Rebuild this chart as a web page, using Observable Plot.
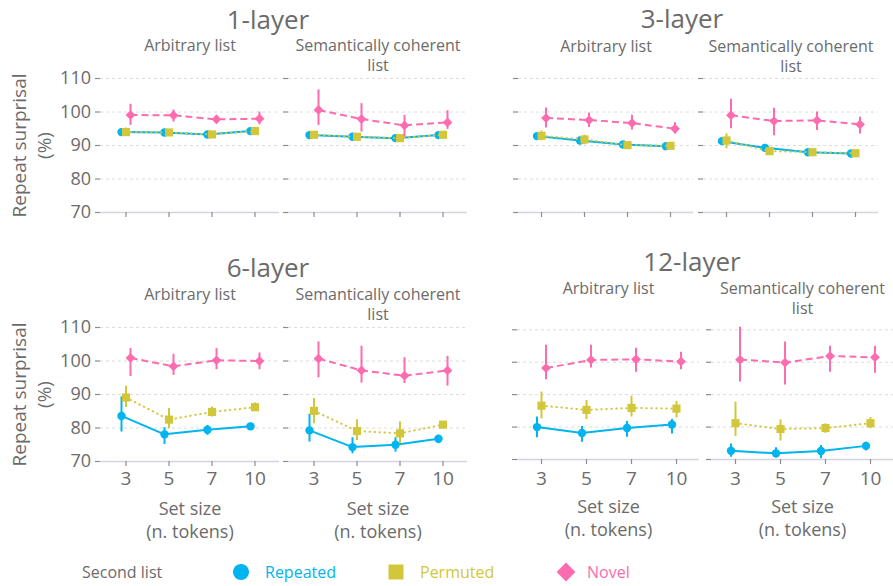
<!DOCTYPE html>
<html><head><meta charset="utf-8">
<script src="https://cdn.jsdelivr.net/npm/d3@7"></script>
<script src="https://cdn.jsdelivr.net/npm/@observablehq/plot@0.6"></script>
<style>
body{margin:0;background:#fff;}
#root{position:relative;width:893px;height:586px;font-family:"Open Sans",sans-serif;color:#6b6b6b;overflow:hidden;}
.panel{position:absolute;}
.title{position:absolute;font-size:26px;line-height:26px;white-space:nowrap;transform:translateX(-50%);}
.leg{position:absolute;font-size:16px;line-height:16px;white-space:nowrap;}
.legsym{position:absolute;}
</style></head><body><div id="root"></div>
<script>
// ---------- categories ----------
const layers = ["1-layer", "3-layer", "6-layer", "12-layer"];
const listTypes = ["Arbitrary list", "Semantically coherent list"];
const setSizes = ["3", "5", "7", "10"];
const seriesNames = ["Repeated", "Permuted", "Novel"];
const legendTitle = "Second list";
const xLabel = "Set size\n(n. tokens)";
const yLabel = "Repeat surprisal\n(%)";
const yTicks = [70, 80, 90, 100, 110];
const gridTicks = [80, 90, 100, 110];

// ---------- values: first 4 = Arbitrary list (3,5,7,10), last 4 = Semantically coherent list ----------
// 1-layer
const rep1   = [94.0, 93.9, 93.3, 94.3, 93.1, 92.6, 92.2, 93.1];
const rep1Lo = [93.2, 93.3, 92.7, 93.8, 92.4, 92.0, 91.6, 92.6];
const rep1Hi = [94.8, 94.5, 93.9, 94.8, 93.8, 93.2, 92.8, 93.6];
const per1   = [94.0, 93.9, 93.3, 94.3, 93.2, 92.6, 92.2, 93.2];
const per1Lo = [92.8, 93.2, 92.6, 93.7, 92.2, 91.9, 91.4, 92.5];
const per1Hi = [95.2, 94.6, 94.0, 94.9, 94.2, 93.3, 93.0, 93.9];
const nov1   = [99.1, 99.0, 97.8, 98.0, 100.6, 97.9, 96.0, 96.9];
const nov1Lo = [96.0, 97.0, 96.5, 96.2, 96.0, 94.0, 92.5, 94.8];
const nov1Hi = [102.3, 100.6, 99.0, 100.0, 106.6, 102.5, 99.0, 100.4];
// 3-layer
const rep3   = [92.8, 91.5, 90.3, 89.8, 91.3, 89.3, 88.0, 87.6];
const rep3Lo = [92.2, 91.0, 89.8, 89.4, 90.4, 88.7, 87.5, 87.1];
const rep3Hi = [93.4, 92.0, 90.8, 90.2, 92.2, 89.9, 88.5, 88.1];
const per3   = [92.9, 91.8, 90.1, 89.9, 91.5, 88.3, 88.0, 87.7];
const per3Lo = [91.4, 90.2, 89.4, 89.4, 89.0, 87.3, 87.4, 87.2];
const per3Hi = [94.3, 93.1, 90.9, 90.4, 93.5, 89.4, 88.6, 88.2];
const nov3   = [98.2, 97.6, 96.7, 95.0, 99.0, 97.3, 97.5, 96.3];
const nov3Lo = [95.2, 95.4, 94.6, 93.4, 95.0, 92.9, 94.5, 93.4];
const nov3Hi = [101.2, 99.7, 99.0, 96.8, 103.8, 101.1, 100.0, 98.4];
// 6-layer
const rep6   = [83.6, 78.1, 79.5, 80.5, 79.3, 74.3, 75.0, 76.8];
const rep6Lo = [78.8, 75.1, 77.8, 79.5, 75.8, 72.3, 72.8, 75.3];
const rep6Hi = [89.3, 80.1, 80.8, 81.5, 84.1, 77.1, 77.1, 77.8];
const per6   = [89.1, 82.5, 84.8, 86.2, 85.1, 79.1, 78.4, 81.0];
const per6Lo = [86.1, 79.8, 83.3, 85.1, 81.3, 76.3, 75.3, 79.8];
const per6Hi = [92.5, 85.8, 86.3, 87.5, 88.8, 82.5, 81.8, 81.8];
const nov6   = [100.9, 98.4, 100.2, 100.0, 100.7, 97.2, 95.6, 97.2];
const nov6Lo = [95.4, 95.7, 97.4, 97.4, 95.0, 93.4, 93.3, 92.5];
const nov6Hi = [103.7, 102.0, 103.7, 102.4, 105.7, 104.4, 101.0, 101.4];
// 12-layer
const rep12   = [80.0, 78.2, 79.7, 80.8, 72.7, 71.9, 72.6, 74.2];
const rep12Lo = [76.7, 75.3, 76.9, 77.9, 70.7, 70.5, 70.2, 72.6];
const rep12Hi = [83.1, 80.2, 81.7, 82.3, 74.8, 73.6, 74.3, 75.3];
const per12   = [86.6, 85.3, 85.9, 85.7, 81.2, 79.4, 79.7, 81.2];
const per12Lo = [82.5, 82.3, 83.1, 82.8, 77.1, 75.7, 78.1, 79.5];
const per12Hi = [90.8, 88.2, 89.5, 87.9, 87.7, 82.2, 81.0, 82.9];
const nov12   = [98.2, 100.7, 100.9, 100.2, 100.8, 99.9, 101.9, 101.5];
const nov12Lo = [94.6, 98.2, 96.9, 97.7, 93.9, 93.0, 96.9, 96.6];
const nov12Hi = [105.2, 105.2, 104.3, 103.1, 110.8, 106.2, 104.9, 104.9];

// ---------- table built from the arrays ----------
const source = {
  "1-layer":  {Repeated: [rep1, rep1Lo, rep1Hi],    Permuted: [per1, per1Lo, per1Hi],    Novel: [nov1, nov1Lo, nov1Hi]},
  "3-layer":  {Repeated: [rep3, rep3Lo, rep3Hi],    Permuted: [per3, per3Lo, per3Hi],    Novel: [nov3, nov3Lo, nov3Hi]},
  "6-layer":  {Repeated: [rep6, rep6Lo, rep6Hi],    Permuted: [per6, per6Lo, per6Hi],    Novel: [nov6, nov6Lo, nov6Hi]},
  "12-layer": {Repeated: [rep12, rep12Lo, rep12Hi], Permuted: [per12, per12Lo, per12Hi], Novel: [nov12, nov12Lo, nov12Hi]}
};
function rowsFor(layer, s) {
  const [m, lo, hi] = source[layer][s];
  return m.map((v, i) => ({list: listTypes[i < 4 ? 0 : 1], size: setSizes[i % 4], mean: v, lo: lo[i], hi: hi[i]}));
}

// ---------- styles ----------
const sty = {
  Repeated: {color: "#00B4EF", dash: null,  cap: "butt",  symbol: "circle",   r: 4.2, dx: -4.5},
  Permuted: {color: "#D2C73A", dash: "0.5,4.5", cap: "round", symbol: "square",   r: 4.6, dx: 0},
  Novel:    {color: "#FF6BAF", dash: "7,4", cap: "butt",  symbol: "diamond2", r: 4.4, dx: 4.5}
};
const grey = "#6b6b6b";
const tickGrey = "#8c8c8c";

const panels = [
  {layer: "1-layer",  left: 0,   top: 0,   width: 470, height: 240, mL: 99.5, mR: 3.5, mT: 78,   mB: 28, gap: 9/188,  xPad: 0.55, yLabels: true,  xLabels: false, stripDy: -41.7, titleX: 268, titleBase: 29.3, xTickPad: 4.5, xLabelDy: 37},
  {layer: "3-layer",  left: 470, top: 0,   width: 423, height: 240, mL: 48,   mR: 15,  mT: 78,   mB: 28, gap: 10/185, xPad: 0.5,  yLabels: false, xLabels: false, stripDy: -40.7, titleX: 682, titleBase: 28.3, xTickPad: 4.5, xLabelDy: 37},
  {layer: "6-layer",  left: 0,   top: 240, width: 470, height: 300, mL: 99.5, mR: 3.5, mT: 87,   mB: 79, gap: 9/188,  xPad: 0.55, yLabels: true,  xLabels: true,  stripDy: -41.7, titleX: 268, titleBase: 277.3, xTickPad: 4.5, xLabelDy: 37.2},
  {layer: "12-layer", left: 470, top: 240, width: 423, height: 300, mL: 47,   mR: 0,   mT: 89.3, mB: 81, gap: 12/194, xPad: 0.5,  yLabels: false, xLabels: true,  stripDy: -49.7, titleX: 692, titleBase: 270.7, xTickPad: 6.5, xLabelDy: 37.7}
];

const root = document.getElementById("root");
const stripText = d => d === "Semantically coherent list" ? "Semantically coherent\nlist" : d;

for (const p of panels) {
  const marks = [
    Plot.gridY(gridTicks, {stroke: "#dcdcdc", strokeOpacity: 1, strokeDasharray: "3,3"}),
    Plot.ruleY([70], {stroke: "#d4d4e4", strokeWidth: 1.5}),
    Plot.axisY(yTicks, {facetAnchor: null, tickSize: 5, tickFormat: () => "", stroke: tickGrey, strokeWidth: 1.2, label: null}),
    Plot.axisX({tickSize: 5, tickPadding: p.xTickPad, tickFormat: p.xLabels ? d => d : () => "", fontSize: 19, stroke: tickGrey, strokeWidth: 1.2, fill: grey, label: null}),
    Plot.text(listTypes, {fx: d => d, text: stripText, frameAnchor: "top", lineAnchor: "top", dy: p.stripDy, fontSize: 16, lineHeight: 1.25, fill: grey})
  ];
  if (p.yLabels) {
    marks.push(Plot.axisY(yTicks, {tickSize: 0, tickPadding: 9.5, fontSize: 18, fill: grey, label: null}));
    marks.push(Plot.text([yLabel], {fx: () => listTypes[0], text: d => d, frameAnchor: "left", textAnchor: "middle", rotate: -90, dx: -70, fontSize: 19, lineHeight: 1.3, fill: grey}));
  }
  if (p.xLabels) {
    marks.push(Plot.text(listTypes, {fx: d => d, text: () => xLabel, frameAnchor: "bottom", lineAnchor: "top", dy: p.xLabelDy, fontSize: 18, lineHeight: 1.27, fill: grey}));
  }
  for (const s of seriesNames) {
    const data = rowsFor(p.layer, s);
    const st = sty[s];
    marks.push(Plot.ruleX(data, {fx: "list", x: "size", y1: "lo", y2: "hi", stroke: st.color, strokeWidth: 2, dx: st.dx}));
    marks.push(Plot.line(data, {fx: "list", x: "size", y: "mean", stroke: st.color, strokeWidth: 2, strokeDasharray: st.dash, strokeLinecap: st.cap, dx: st.dx}));
    marks.push(Plot.dot(data, {fx: "list", x: "size", y: "mean", symbol: st.symbol, r: st.r, fill: st.color, stroke: "none", dx: st.dx}));
  }
  const chart = Plot.plot({
    width: p.width, height: p.height,
    marginLeft: p.mL, marginRight: p.mR, marginTop: p.mT, marginBottom: p.mB,
    fx: {domain: listTypes, paddingInner: p.gap, paddingOuter: 0, axis: null, label: null},
    x: {type: "point", domain: setSizes, padding: p.xPad},
    y: {domain: [70, 110]},
    style: {fontFamily: "Open Sans", color: grey, background: "transparent", overflow: "visible"},
    marks
  });
  chart.classList.add("panel");
  chart.style.left = p.left + "px";
  chart.style.top = p.top + "px";
  root.appendChild(chart);

  const t = document.createElement("div");
  t.className = "title";
  t.textContent = p.layer;
  t.style.left = p.titleX + "px";
  t.style.top = (p.titleBase - 23.1) + "px";
  root.appendChild(t);
}

// ---------- legend ----------
const legTop = 563.6, legCy = 572;
const lt = document.createElement("div");
lt.className = "leg"; lt.textContent = legendTitle; lt.style.left = "82px"; lt.style.top = legTop + "px"; lt.style.color = grey;
root.appendChild(lt);
const legItems = [
  {s: "Repeated", type: d3.symbolCircle,   size: Math.PI * 64, cx: 241, tx: 265},
  {s: "Permuted", type: d3.symbolSquare,   size: 225,          cx: 395.5, tx: 420},
  {s: "Novel",    type: d3.symbolDiamond2, size: 225,          cx: 566, tx: 587}
];
for (const it of legItems) {
  const svg = d3.create("svg").attr("class", "legsym").attr("width", 30).attr("height", 30)
    .style("left", (it.cx - 15) + "px").style("top", (legCy - 15) + "px");
  svg.append("path").attr("transform", "translate(15,15)").attr("d", d3.symbol(it.type, it.size)()).attr("fill", sty[it.s].color);
  root.appendChild(svg.node());
  const tx = document.createElement("div");
  tx.className = "leg"; tx.textContent = it.s; tx.style.left = it.tx + "px"; tx.style.top = legTop + "px"; tx.style.color = sty[it.s].color;
  root.appendChild(tx);
}
</script>
</body></html>
